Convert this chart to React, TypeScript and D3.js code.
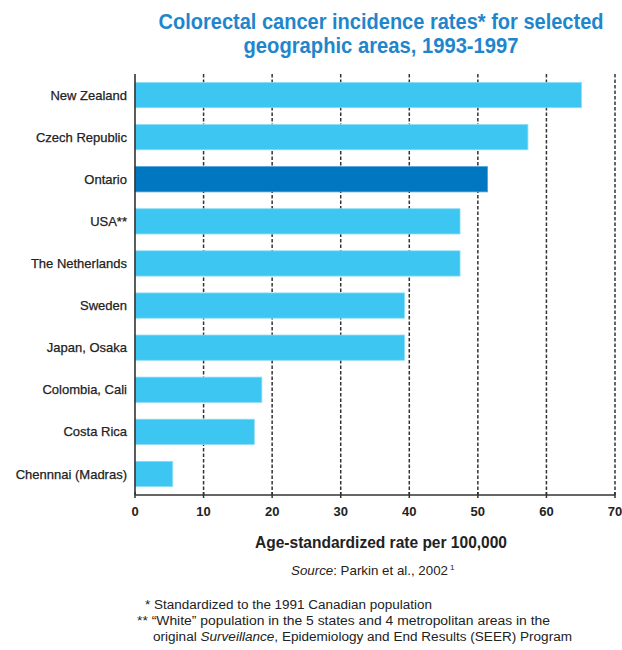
import React from "react";
import * as d3 from "d3";

const categories = [
  "New Zealand",
  "Czech Republic",
  "Ontario",
  "USA**",
  "The Netherlands",
  "Sweden",
  "Japan, Osaka",
  "Colombia, Cali",
  "Costa Rica",
  "Chennnai (Madras)",
];
const rates = [65.1, 57.3, 51.4, 47.4, 47.4, 39.3, 39.3, 18.5, 17.4, 5.5];
const highlighted = ["Ontario"];
const xTicks = [0, 10, 20, 30, 40, 50, 60, 70];

const titleLines = [
  "Colorectal cancer incidence rates* for selected",
  "geographic areas, 1993-1997",
];
const xAxisTitle = "Age-standardized rate per 100,000";
const footnote1 = "* Standardized to the 1991 Canadian population";
const footnote2 = "** \u201CWhite\u201D population in the 5 states and 4 metropolitan areas in the";

const FONT = "'Liberation Sans', Arial, sans-serif";

export default function App() {
  const W = 622;
  const H = 650;
  const left = 135;
  const right = 615;
  const top = 74;
  const bottom = 495;

  const x = d3.scaleLinear().domain([0, 70]).range([left, right]);
  const y = d3
    .scaleBand<string>()
    .domain(categories)
    .range([top, bottom])
    .paddingInner(0.4)
    .paddingOuter(0.2);

  const data = categories.map((c, i) => ({ c, v: rates[i] }));
  const titleWidths = [445, 275];
  const sx = 0.76;

  return (
    <svg
      width={W}
      height={H}
      style={{ position: "absolute", left: 0, top: 0, background: "#fff" }}
      fontFamily={FONT}
    >
      {titleLines.map((t, i) => (
        <text
          key={i}
          transform={`translate(381,${29 + i * 24}) scale(${sx},1)`}
          textAnchor="middle"
          fontSize={22}
          fontWeight="bold"
          fill="#1f86cc"
          textLength={titleWidths[i] / sx}
          lengthAdjust="spacingAndGlyphs"
        >
          {t}
        </text>
      ))}

      {/* gridlines */}
      {xTicks
        .filter((t) => t > 0)
        .map((t) => (
          <line
            key={t}
            x1={x(t)}
            x2={x(t)}
            y1={top}
            y2={bottom}
            stroke="#333"
            strokeWidth={1.5}
            strokeDasharray="3.5,2"
          />
        ))}

      {/* bars */}
      {data.map((d) => (
        <rect
          key={d.c}
          x={x(0)}
          y={y(d.c)}
          width={x(d.v) - x(0)}
          height={y.bandwidth()}
          fill={highlighted.includes(d.c) ? "#0077c0" : "#3dc6f1"}
          stroke={highlighted.includes(d.c) ? "#4aa0d8" : "#8ddcf6"}
          strokeWidth={0.8}
        />
      ))}

      {/* category labels */}
      {data.map((d) => (
        <text
          key={d.c}
          x={127}
          y={(y(d.c) as number) + y.bandwidth() / 2}
          dy="0.35em"
          textAnchor="end"
          fontSize={13}
          fill="#222"
          stroke="#222"
          strokeWidth={0.25}
        >
          {d.c}
        </text>
      ))}

      {/* axes */}
      <line x1={left} x2={left} y1={top} y2={bottom} stroke="#333" strokeWidth={1.6} />
      <line x1={left} x2={right} y1={bottom} y2={bottom} stroke="#333" strokeWidth={1.6} />
      {xTicks.map((t) => (
        <g key={t}>
          <line x1={x(t)} x2={x(t)} y1={bottom - 3} y2={bottom + 3} stroke="#333" strokeWidth={1.5} />
          <text
            x={x(t)}
            y={516}
            textAnchor="middle"
            fontSize={13}
            fontWeight="bold"
            fill="#222"
          >
            {t}
          </text>
        </g>
      ))}

      <text
        x={381}
        y={548}
        textAnchor="middle"
        fontSize={17}
        fontWeight="bold"
        fill="#222"
        textLength={252}
        lengthAdjust="spacingAndGlyphs"
      >
        {xAxisTitle}
      </text>

      <text
        x={291}
        y={575}
        fontSize={13}
        fill="#222"
        textLength={157}
        lengthAdjust="spacingAndGlyphs"
      >
        <tspan fontStyle="italic">Source</tspan>
        <tspan>: Parkin et al., 2002</tspan>
      </text>
      <text x={450} y={570} fontSize={8} fill="#222">1</text>

      <text x={145} y={609} fontSize={12} fill="#222" textLength={287} lengthAdjust="spacingAndGlyphs">
        {footnote1}
      </text>
      <text x={137} y={625} fontSize={12} fill="#222" textLength={413} lengthAdjust="spacingAndGlyphs">
        {footnote2}
      </text>
      <text x={153} y={641} fontSize={12} fill="#222" textLength={419} lengthAdjust="spacingAndGlyphs">
        <tspan>original </tspan>
        <tspan fontStyle="italic">Surveillance</tspan>
        <tspan>, Epidemiology and End Results (SEER) Program</tspan>
      </text>
    </svg>
  );
}
